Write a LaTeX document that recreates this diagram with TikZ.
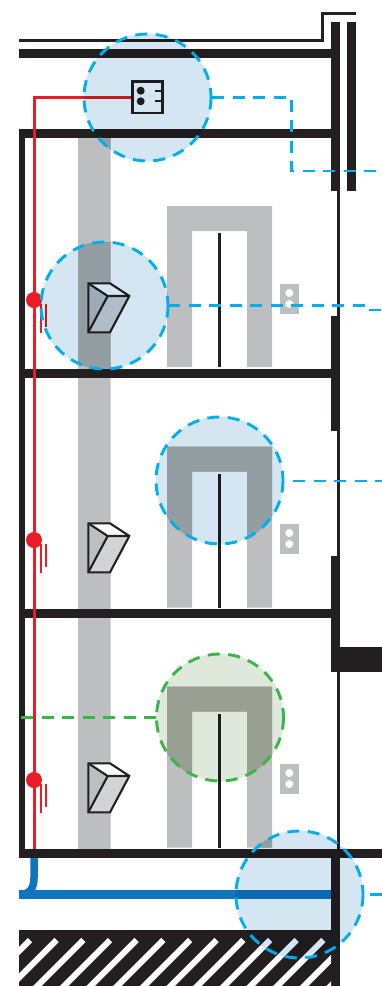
\documentclass[tikz,border=0pt]{standalone}
\usetikzlibrary{calc}
\definecolor{wallblack}{HTML}{231F20}
\definecolor{shaftgray}{HTML}{BCBEC0}
\definecolor{shaftshade}{HTML}{B0B0AC}
\definecolor{facegray}{HTML}{D1D3D4}
\definecolor{alarmred}{HTML}{ED1C24}
\definecolor{pipeblue}{HTML}{0F75BC}
\definecolor{zonecyan}{HTML}{00AEEF}
\definecolor{zonegreen}{HTML}{39B54A}
\definecolor{zonecyanfill}{HTML}{D4E6F1}
\definecolor{zonegreenfill}{HTML}{DFE9DB}
\newcommand{\doorpath}[1]{(167,367+#1) -- (167,206+#1) -- (272,206+#1) -- (272,367+#1) -- (247,367+#1) -- (247,231+#1) -- (192,231+#1) -- (192,367+#1) -- cycle}
\newcommand{\shaftpath}{(78,138) rectangle (110.7,849) \doorpath{0} \doorpath{240.5} \doorpath{480.5}}
\tikzset{
  wall/.style={fill=wallblack},
  zone/.style={line width=2.9pt,dash pattern=on 12pt off 8.5pt},
  zonefill/.style={blend mode=multiply},
  icon/.style={draw=wallblack,line width=2.1pt,miter limit=3}
}
\begin{document}
\begin{tikzpicture}[x=1pt,y=-1pt]
\useasboundingbox (0,0) rectangle (382,986);
% shaft and doors
\fill[shaftgray] \shaftpath;
\foreach \cx/\cy in {147.5/97.5,104.5/305.5,219.5/480.5,220/717.5,299.5/894.5}{
  \begin{scope}
    \clip (\cx,\cy) circle (64);
    \fill[shaftshade] \shaftpath;
  \end{scope}
}
\foreach \dy in {0,240.5,480.5}{
  \fill[wallblack] (218.3,233+\dy) rectangle (221,367+\dy);
}
% call panels
\foreach \dy in {0,240,480}{
  \fill[shaftgray] (280,284+\dy) rectangle (299,314+\dy);
  \fill[white] (289.3,293+\dy) circle (4);
  \fill[white] (289.3,304+\dy) circle (4);
}
% building
\draw[wallblack,line width=3pt] (19,40.5) -- (322.5,40.5) -- (322.5,13.5) -- (356,13.5);
\fill[wall] (19,49) rectangle (331,58);
\fill[wall] (19,129) rectangle (331,138);
\fill[wall] (19,129) rectangle (25,858);
\fill[wall] (25,369) rectangle (331,378);
\fill[wall] (25,609) rectangle (331,618);
\fill[wall] (19,849) rectangle (382,858);
\fill[wall] (331,22) rectangle (340,191);
\fill[wall] (347,22) rectangle (356,191);
\fill[wall] (337,191) rectangle (340,858);
\fill[wall] (331,316) rectangle (340,431);
\fill[wall] (331,556) rectangle (340,672);
\fill[wall] (331,647) rectangle (382,672);
\fill[wall] (331,858) rectangle (340,986);
% ground
\fill[wall] (19,930) rectangle (331,986);
\begin{scope}
  \clip (19,930) rectangle (331,986);
  \foreach \k in {0,...,13}{
    \draw[white,line width=6pt] (30+26.67*\k,940) -- ++(-70,70);
  }
\end{scope}
% pipe
\draw[pipeblue,line width=8.7pt] (19,894.5) -- (331,894.5);
\draw[pipeblue,line width=7.5pt] (34,858) -- (34,878) .. controls (34,889) and (29,894.5) .. (19,894.5);
% alarm line
\draw[alarmred,line width=2.6pt] (133,97.5) -- (34.3,97.5) -- (34.3,849);
\foreach \dy in {0,240,480}{
  \fill[alarmred] (34,300+\dy) circle (8);
  \draw[alarmred,line width=2.2pt] (40.7,304+\dy) -- (40.7,333+\dy);
  \draw[alarmred,line width=2.2pt] (46.3,304+\dy) -- (46.3,327+\dy);
}
% cameras
\foreach \dy in {0,240,480}{
  \fill[shaftgray] (88.3,283.3+\dy) -- (107.7,296+\dy) -- (88.3,332.3+\dy) -- cycle;
  \fill[facegray] (107.7,296+\dy) -- (129.3,296+\dy) -- (110,332.3+\dy) -- (88.3,332.3+\dy) -- cycle;
  \fill[white] (88.3,283.3+\dy) -- (110,283.3+\dy) -- (129.3,296+\dy) -- (107.7,296+\dy) -- cycle;
  \draw[icon] (88.3,283.3+\dy) -- (110,283.3+\dy) -- (129.3,296+\dy) -- (110,332.3+\dy) -- (88.3,332.3+\dy) -- cycle;
  \draw[icon] (88.3,283.3+\dy) -- (107.7,296+\dy) -- (129.3,296+\dy);
  \draw[icon] (107.7,296+\dy) -- (88.3,332.3+\dy);
}
% control box
\draw[icon] (132.5,81.5) rectangle (162.5,113);
\fill[wallblack] (140.7,90.7) circle (4);
\fill[wallblack] (140.7,101.3) circle (4);
\draw[icon] (155.3,90.7) -- (162.5,90.7);
\draw[icon] (155.3,101.3) -- (162.5,101.3);
% zones
\foreach \cx/\cy in {147.5/97.5,104.5/305.5,219.5/480.5,299.5/894.5}{
  \fill[zonecyanfill,zonefill] (\cx,\cy) circle (64);
  \draw[zonecyan,zone] (\cx,\cy) circle (63.5);
}
\fill[zonegreenfill,zonefill] (220,717.5) circle (64);
\draw[zonegreen,zone] (220,717.5) circle (63.5);
\draw[zonecyan,zone] (212,97.5) -- (291.7,97.5) -- (291.7,171) -- (382,171);
\draw[zonecyan,zone] (168,305.5) -- (364,305.5) -- (364,310) -- (382,310);
\draw[zonecyan,zone] (293,481) -- (382,481);
\draw[zonecyan,zone] (370,894.5) -- (382,894.5);
\draw[zonegreen,zone] (21,717.5) -- (155.5,717.5);
\end{tikzpicture}
\end{document}
